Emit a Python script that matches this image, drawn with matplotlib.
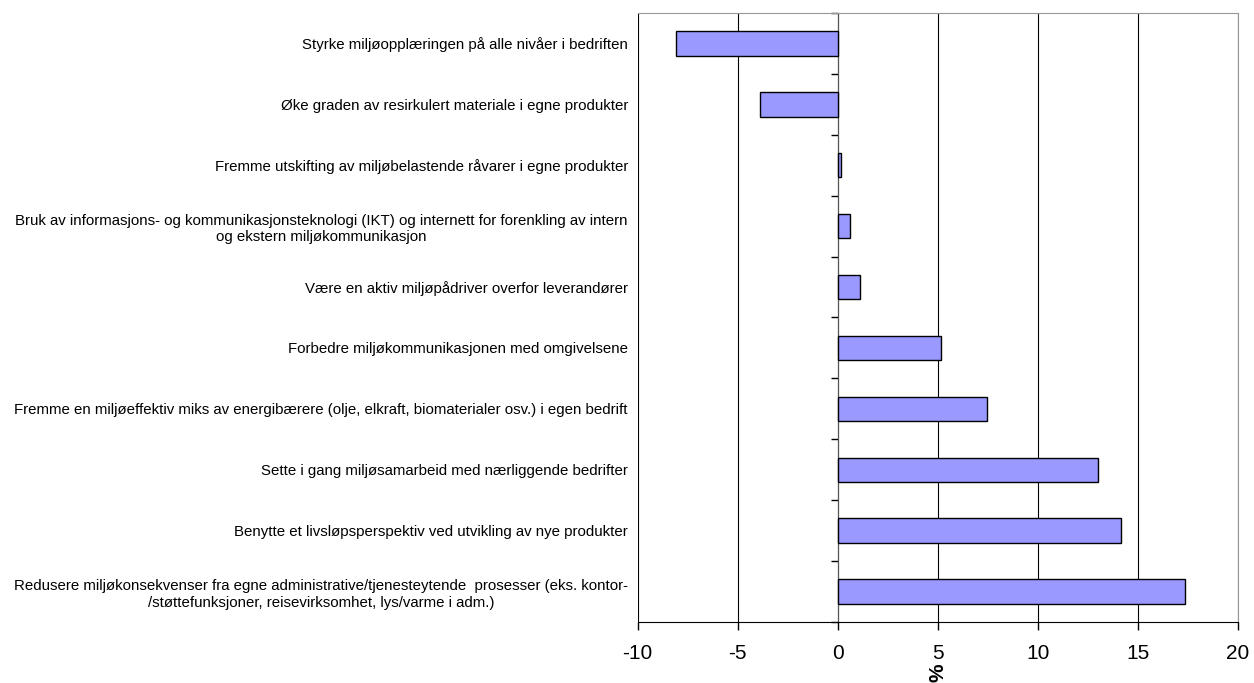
import matplotlib.pyplot as plt
import numpy as np

plt.rcParams['font.family'] = ['Liberation Sans', 'DejaVu Sans']

categories = [
    "Styrke miljøopplæringen på alle nivåer i bedriften",
    "Øke graden av resirkulert materiale i egne produkter",
    "Fremme utskifting av miljøbelastende råvarer i egne produkter",
    "Bruk av informasjons- og kommunikasjonsteknologi (IKT) og internett for forenkling av intern\nog ekstern miljøkommunikasjon",
    "Være en aktiv miljøpådriver overfor leverandører",
    "Forbedre miljøkommunikasjonen med omgivelsene",
    "Fremme en miljøeffektiv miks av energibærere (olje, elkraft, biomaterialer osv.) i egen bedrift",
    "Sette i gang miljøsamarbeid med nærliggende bedrifter",
    "Benytte et livsløpsperspektiv ved utvikling av nye produkter",
    "Redusere miljøkonsekvenser fra egne administrative/tjenesteytende  prosesser (eks. kontor-\n/støttefunksjoner, reisevirksomhet, lys/varme i adm.)",
]
values = [-8.1, -3.9, 0.17, 0.6, 1.13, 5.18, 7.45, 13.0, 14.18, 17.38]
xticks = [-10, -5, 0, 5, 10, 15, 20]

fig = plt.figure(figsize=(12.54, 6.83), dpi=100)
ax = fig.add_axes([0.5085, 0.0893, 0.4785, 0.8917])

y = np.arange(len(categories))
ax.barh(y, values, height=0.4, color="#9999ff", edgecolor="black", linewidth=1, zorder=3)

ax.set_xlim(-10, 20)
ax.set_ylim(len(categories) - 0.5, -0.5)

ax.set_xticks(xticks)
ax.set_xticklabels([str(t) for t in xticks], fontsize=15)
ax.tick_params(axis="x", length=6, width=1, pad=10)
ax.grid(axis="x", color="black", linewidth=0.8, zorder=0)

ax.spines["left"].set_position(("data", 0))
ax.spines["left"].set_color("#555555")
for s in ["top", "right"]:
    ax.spines[s].set_color("#999999")
ax.spines["bottom"].set_color("black")

ax.set_yticks(np.arange(len(categories) + 1) - 0.5, minor=True)
ax.tick_params(axis="y", which="minor", length=5, width=1)
ax.set_yticks(y)
ax.tick_params(axis="y", which="major", length=0, pad=151, labelsize=10.8)
ax.set_yticklabels(categories)
for lbl in ax.get_yticklabels():
    lbl.set_horizontalalignment("right")
    lbl.set_multialignment("center")
    lbl.set_linespacing(1.25)

ax.set_xlabel("%", fontsize=15, fontweight="bold", rotation=90, labelpad=0)

plt.savefig("out.png", dpi=100)
